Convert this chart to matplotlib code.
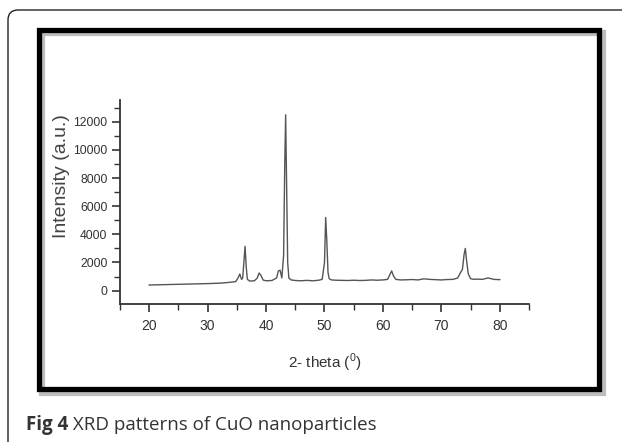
import matplotlib
matplotlib.use("Agg")
import matplotlib.pyplot as plt
from matplotlib.patches import Rectangle, FancyBboxPatch
from matplotlib.ticker import MultipleLocator

# ---- data ----
two_theta = [20, 22, 24, 26, 28, 30, 32, 33, 34, 34.8, 35.2, 35.5, 35.8, 36.0,
             36.2, 36.4, 36.6, 36.8, 37.2, 38.0, 38.5, 38.8, 39.1, 39.5, 40.0,
             41.0, 41.8, 42.1, 42.4, 42.7, 43.0, 43.2, 43.35, 43.5, 43.7, 43.9,
             44.3, 45, 46, 47, 48, 49, 49.6, 50.0, 50.2, 50.4, 50.6, 50.8, 51.2,
             52, 53, 54, 55, 56, 57, 58, 59, 60, 60.8, 61.2, 61.5, 61.8, 62.2,
             63, 64, 65, 66, 67, 68, 69, 70, 71, 72, 72.8, 73.3, 73.6, 73.9,
             74.1, 74.3, 74.6, 75.0, 75.5, 76, 77, 78, 79, 80]
intensity = [400, 420, 440, 460, 480, 500, 530, 560, 600, 640, 900, 1180, 800, 900,
             2000, 3150, 1700, 800, 680, 700, 900, 1250, 1100, 750, 700,
             720, 900, 1400, 1450, 900, 2500, 9000, 12500, 8000, 2000, 900,
             760, 720, 700, 730, 700, 740, 800, 2000, 5200, 3500, 1300, 850, 760,
             740, 730, 720, 740, 720, 730, 760, 740, 760, 800, 1150, 1400, 1050, 800,
             760, 770, 790, 760, 840, 800, 780, 760, 790, 800, 900, 1300, 1500, 2600,
             3000, 2200, 1200, 850, 800, 820, 800, 900, 800, 780]

x_ticks = [20, 30, 40, 50, 60, 70, 80]
y_ticks = [0, 2000, 4000, 6000, 8000, 10000, 12000]
x_label = "2- theta ($^{\\mathregular{0}}$)"
y_label = "Intensity (a.u.)"
caption_bold = "Fig 4"
caption_rest = " XRD patterns of CuO nanoparticles"

W, H = 622, 442
fig = plt.figure(figsize=(W / 100, H / 100), dpi=100)
fig.patch.set_facecolor("white")

def px(x, y):
    """pixel (from top-left) -> inches for dpi_scale_trans"""
    return x / 100, (H - y) / 100

# outer rounded border (open on right and bottom)
x0, y0 = px(8, 10)
outer = FancyBboxPatch((x0, -0.5), 10, y0 + 0.5, boxstyle="round,pad=0,rounding_size=0.1",
                       transform=fig.dpi_scale_trans, fill=False, edgecolor="#222222",
                       linewidth=1.0)
fig.add_artist(outer)

# shadow and thick frame
fx0, fy1 = px(38.5, 29.5)
fx1, fy0 = px(599.2, 389.2)
shadow = Rectangle((fx0 + 0.035, fy0 - 0.035), fx1 - fx0, fy1 - fy0,
                   transform=fig.dpi_scale_trans, fill=False, edgecolor="#bdbdbd",
                   linewidth=4.5)
fig.add_artist(shadow)
frame = Rectangle((fx0, fy0), fx1 - fx0, fy1 - fy0, transform=fig.dpi_scale_trans,
                  fill=False, edgecolor="black", linewidth=3.8)
fig.add_artist(frame)

# axes
ax = fig.add_axes([120 / W, 1 - 304 / H, 409 / W, 204 / H])
ax.plot(two_theta, intensity, color="#555555", linewidth=1.0)
ax.set_xlim(15, 85)
ax.set_ylim(-950, 13550)
for s in ["top", "right"]:
    ax.spines[s].set_visible(False)
for s in ["left", "bottom"]:
    ax.spines[s].set_color("#333333")
    ax.spines[s].set_linewidth(1.3)

ax.set_xticks(x_ticks)
ax.set_yticks(y_ticks)
ax.xaxis.set_minor_locator(MultipleLocator(5))
ax.yaxis.set_minor_locator(MultipleLocator(1000))
ax.tick_params(which="major", direction="out", length=6, width=1.2, color="#333333",
               labelcolor="#333333")
ax.tick_params(axis="x", which="major", pad=5)
ax.tick_params(axis="y", which="major", pad=3)
ax.tick_params(which="minor", direction="out", length=4, width=1.0, color="#333333")
ax.set_xticklabels([str(v) for v in x_ticks], family=["Liberation Sans", "DejaVu Sans"],
                   fontsize=10)
ax.set_yticklabels([str(v) for v in y_ticks], family=["Liberation Sans", "DejaVu Sans"],
                   fontsize=8.7)

ax.set_xlabel(x_label, family=["Liberation Sans", "DejaVu Sans"], fontsize=11,
              color="#333333", va="center")
ax.xaxis.set_label_coords(0.5, -(363 - 304) / 204)
ax.set_ylabel(y_label, family=["Liberation Sans", "DejaVu Sans"], fontsize=14,
              color="#444444", va="center")
ax.yaxis.set_label_coords(-(120 - 62) / 409, (304 - 176) / 204)

# caption
t1 = fig.text(26 / W, 1 - 425 / H, caption_bold, family=["Open Sans", "DejaVu Sans"],
              fontweight="bold", fontsize=13.5, color="#333333", va="center", ha="left")
fig.canvas.draw()
bb = t1.get_window_extent()
fig.text(bb.x1 / W, 1 - 425 / H, caption_rest, family=["Open Sans", "DejaVu Sans"],
         fontsize=13.5, color="#333333", va="center", ha="left")

fig.savefig("out.png", dpi=100, facecolor="white")
